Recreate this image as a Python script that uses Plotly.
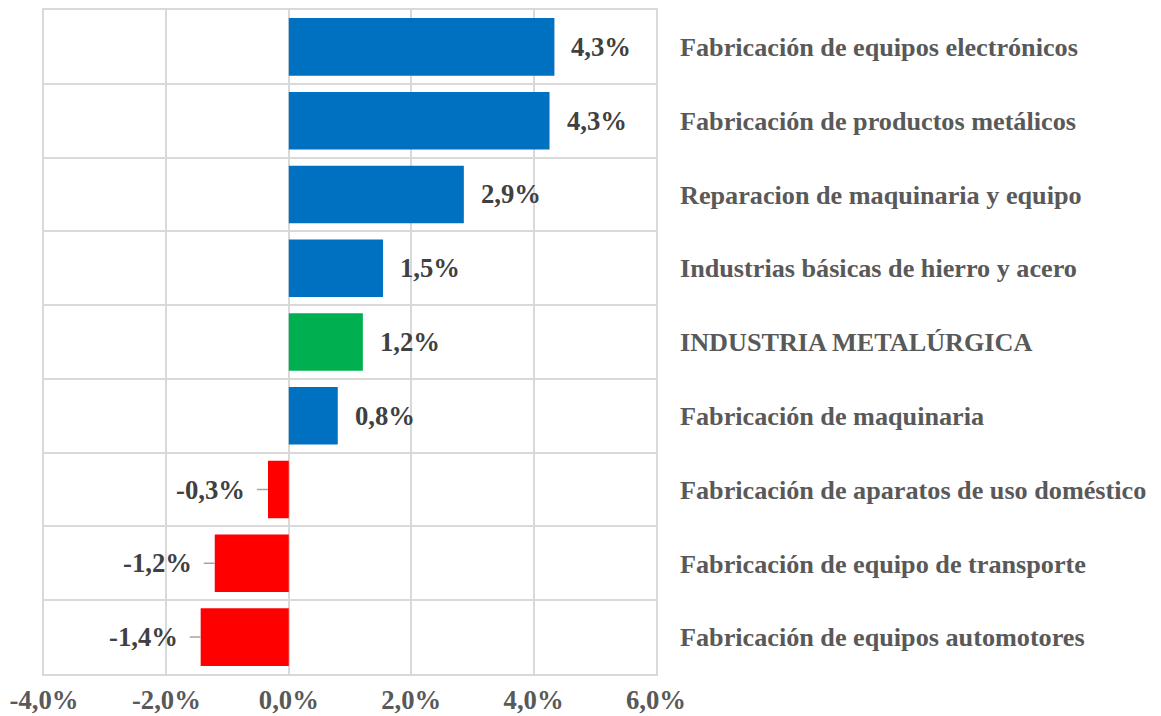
import plotly.graph_objects as go

# categories listed top to bottom
categories = [
    "Fabricación de equipos electrónicos",
    "Fabricación de productos metálicos",
    "Reparacion de maquinaria y equipo",
    "Industrias básicas de hierro y acero",
    "INDUSTRIA METALÚRGICA",
    "Fabricación de maquinaria",
    "Fabricación de aparatos de uso doméstico",
    "Fabricación de equipo de transporte",
    "Fabricación de equipos automotores",
]
values = [4.34, 4.26, 2.86, 1.54, 1.21, 0.80, -0.34, -1.21, -1.44]
labels = ["4,3%", "4,3%", "2,9%", "1,5%", "1,2%", "0,8%", "-0,3%", "-1,2%", "-1,4%"]
x_ticks = [-4, -2, 0, 2, 4, 6]
x_ticktext = ["-4,0%", "-2,0%", "0,0%", "2,0%", "4,0%", "6,0%"]

BLUE, GREEN, RED = "#0070C0", "#00B050", "#FF0000"
colors = []
for cat, v in zip(categories, values):
    if cat == "INDUSTRIA METALÚRGICA":
        colors.append(GREEN)
    elif v < 0:
        colors.append(RED)
    else:
        colors.append(BLUE)

ypos = list(range(len(categories)))
FONT = "Liberation Serif, Times New Roman, serif"
SIZE = 26.7
GRID = "#D9D9D9"

fig = go.Figure(go.Bar(
    x=values, y=ypos, orientation="h",
    marker=dict(color=colors, line=dict(width=0)),
    width=0.78,
))

# value labels, negatives get a short leader line like Excel
for y, v, t in zip(ypos, values, labels):
    if v >= 0:
        fig.add_annotation(x=v, y=y, text=t, showarrow=False, xanchor="left",
                           xshift=15,
                           font=dict(size=SIZE, color="#404040", family=FONT, weight="bold"))
    else:
        fig.add_annotation(x=v, y=y, text=t, showarrow=True, arrowhead=0,
                           arrowcolor="#A6A6A6", arrowwidth=1.5, ax=-57, ay=0,
                           startstandoff=10,
                           font=dict(size=SIZE, color="#404040", family=FONT, weight="bold"))

# page body has an 8px margin, so the figure is a bit smaller than the window
fig.update_layout(
    width=1153, height=708,
    margin=dict(l=36, r=505, t=2, b=42),
    plot_bgcolor="white", paper_bgcolor="white",
    showlegend=False,
    font=dict(family=FONT, size=SIZE, color="#595959", weight="bold"),
)
fig.update_xaxes(
    range=[-4, 6], tickvals=x_ticks, ticktext=x_ticktext,
    showgrid=True, gridcolor=GRID, gridwidth=1.5,
    zeroline=False, showline=True, linecolor=GRID, linewidth=1.5, mirror=True,
    ticks="", automargin=False,
    tickfont=dict(size=SIZE, color="#595959", family=FONT, weight="bold"),
    ticklabelstandoff=1,
)
fig.update_yaxes(
    range=[len(categories) - 0.5, -0.5], side="right",
    tickvals=ypos, ticktext=categories,
    showgrid=False, zeroline=False, showline=True, linecolor=GRID, linewidth=1.5,
    mirror=True, ticks="", automargin=False,
    tickfont=dict(size=26.2, color="#595959", family=FONT, weight="bold"),
    ticklabelstandoff=17,
    minor=dict(tickvals=[i - 0.5 for i in range(len(categories) + 1)],
               showgrid=True, gridcolor=GRID, gridwidth=1.5, ticks=""),
)

fig.write_html("out.html")
